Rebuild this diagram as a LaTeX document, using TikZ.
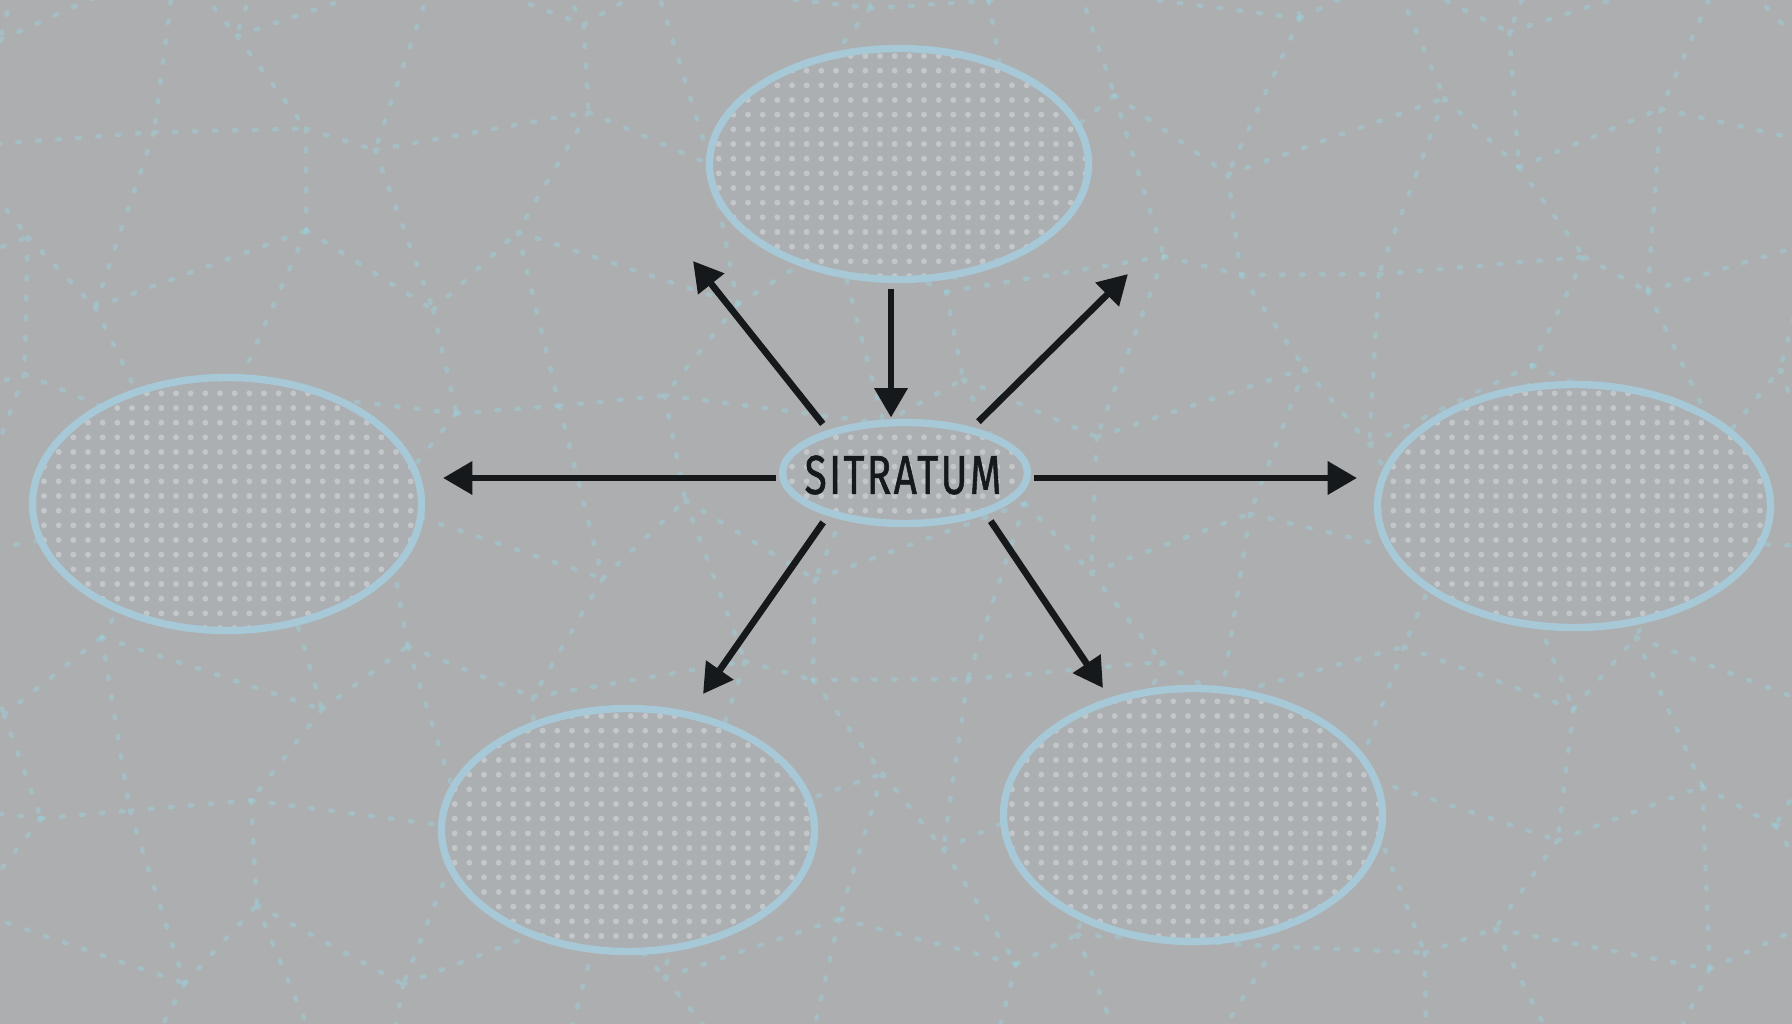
\documentclass[tikz,border=0pt]{standalone}
\usepackage{fontspec}
\setmainfont{Fira Sans}
\usetikzlibrary{arrows.meta,patterns.meta,shapes.geometric}
\definecolor{bg}{HTML}{ADAEAF}
\definecolor{rim}{HTML}{A7C8D6}
\definecolor{blobfill}{HTML}{ABAFB2}
\definecolor{dotc}{HTML}{C4C7C9}
\definecolor{net}{HTML}{9BD2DE}
\definecolor{ink}{HTML}{16191C}
\begin{document}
\begin{tikzpicture}[x=0.75pt,y=-0.75pt,
  blob/.style={ellipse, draw=rim, line width=5.5pt, inner sep=0pt,
    preaction={fill=blobfill}, pattern={Dots[distance=11pt, radius=2.2pt]}, pattern color=dotc},
  arr/.style={draw=ink, line width=5pt, -{Triangle[length=22pt,width=24pt]}},
  netline/.style={draw=net, line width=3.4pt, line cap=round, dash pattern=on 2pt off 13pt, opacity=0.45},
  lbl/.style={text=ink, inner sep=0pt, font=\fontsize{41}{42}\selectfont}
]
\useasboundingbox (0,0) rectangle (1792,1024);
\fill[bg] (0,0) rectangle (1792,1024);

% faint background network
\foreach \i in {-1,...,13}{
 \foreach \j in {-1,...,8}{
  \pgfmathsetmacro\ax{\i*140+45*sin(\i*127+\j*251)}
  \pgfmathsetmacro\ay{\j*135+40*cos(\i*193+\j*73)}
  \pgfmathsetmacro\bx{(\i+1)*140+45*sin((\i+1)*127+\j*251)}
  \pgfmathsetmacro\by{\j*135+40*cos((\i+1)*193+\j*73)}
  \pgfmathsetmacro\cx{\i*140+45*sin(\i*127+(\j+1)*251)}
  \pgfmathsetmacro\cy{(\j+1)*135+40*cos(\i*193+(\j+1)*73)}
  \draw[netline] (\ax,\ay) -- (\bx,\by) (\ax,\ay) -- (\cx,\cy);
 }}

% ellipses
\node[blob, minimum width=284.25pt, minimum height=173.25pt] (t)  at (899,164) {};
\node[blob, minimum width=291.75pt, minimum height=189.75pt] (l)  at (227,504) {};
\node[blob, minimum width=294.75pt, minimum height=182.25pt] (r)  at (1574,506) {};
\node[blob, minimum width=279.75pt, minimum height=182.25pt] (bl) at (628,830) {};
\node[blob, minimum width=284.25pt, minimum height=189.75pt] (br) at (1193,815) {};
\node[blob, minimum width=183.75pt, minimum height=75.75pt]  (c)  at (905,473) {};
\node[lbl] (ctxt) at (903,475) {\scalebox{0.74}[1]{\addfontfeature{LetterSpace=6,FakeBold=1.2}SITRATUM}};

% free ends of arrows
\coordinate (pUL) at (693,261);
\coordinate (pUR) at (1128,274);
\coordinate (pL)  at (443,478);
\coordinate (pR)  at (1357,478);
\coordinate (pDL) at (703,694);
\coordinate (pDR) at (1103,688);

% connectors
\draw[arr, shorten <=4pt, shorten >=1pt] ([xshift=-6pt]t.south) -- ([xshift=-10.5pt]c.north);
\draw[arr, shorten <=6pt] (c.151) -- (pUL);
\draw[arr, shorten <=6pt] (c.34)  -- (pUR);
\draw[arr, shorten <=2pt] (c.west |- pL) -- (pL);
\draw[arr, shorten <=2pt] (c.east |- pR) -- (pR);
\draw[arr, shorten <=6pt] (c.209) -- (pDL);
\draw[arr, shorten <=6pt] (c.333) -- (pDR);
\end{tikzpicture}
\end{document}
